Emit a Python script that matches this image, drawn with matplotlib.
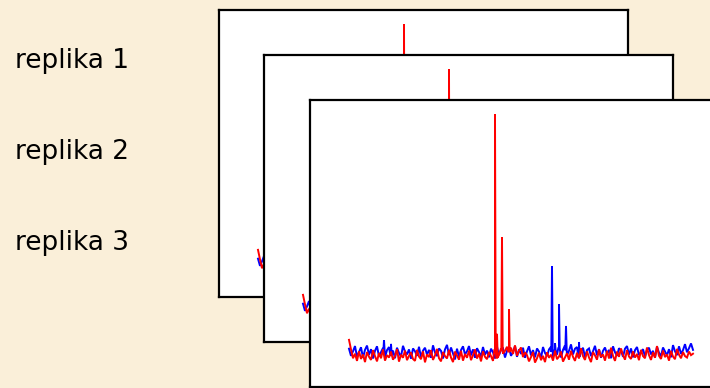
import numpy as np
import matplotlib
matplotlib.use("Agg")
import matplotlib.pyplot as plt

# ---- data ----
labels = ["replika 1", "replika 2", "replika 3"]

noise_x = np.arange(0, 345, 2)  # sampling positions of the baseline (173)
blue_noise = [
 1.8,-1.2,0.7,2.9,-1.6,0.4,2.4,-2.0,1.3,3.1,
 -0.8,1.6,-2.3,0.9,2.8,-1.4,0.3,2.1,-1.8,1.2,
 2.5,-0.9,1.0,-2.2,2.2,0.0,-1.5,3.0,0.6,-0.6,
 1.5,-2.4,1.9,0.7,-1.2,2.6,-1.9,1.0,2.2,-0.7,
 1.3,-2.0,3.2,0.2,-1.3,1.9,0.9,-2.3,1.5,3.4,
 -0.9,2.3,-0.2,-2.7,1.8,-1.6,1.2,2.8,-0.6,0.7,
 2.9,-1.0,1.5,-2.0,2.0,0.4,-1.5,2.5,-0.7,1.0,
 -1.8,1.8,0.3,-2.3,2.6,-0.9,1.3,1.9,-1.9,0.9,
 2.3,-1.2,0.4,2.9,-1.6,1.5,-0.4,2.2,-2.0,0.7,
 2.8,-1.0,1.2,-1.8,1.9,0.6,-2.2,2.5,0.0,-1.3,
 1.5,2.6,-1.6,1.0,-0.7,2.0,-1.9,1.3,3.2,-0.9,
 0.9,3.6,-0.6,1.8,2.5,-1.5,0.6,2.2,-1.8,1.2,
 1.9,-1.3,0.7,3.0,-1.0,1.6,-2.0,0.9,2.3,-0.4,
 1.3,-2.2,2.8,0.3,-1.2,2.0,1.0,-1.6,1.8,2.9,
 -0.7,1.9,-1.8,1.2,2.5,-0.9,0.4,1.6,-1.5,1.3,
 2.2,-0.6,0.9,-1.9,2.6,0.1,-1.3,2.3,0.6,-1.0,
 1.6,-1.8,3.3,0.7,-0.9,2.8,-0.4,1.2,3.7,0.3,
 2.0,4.0,1.3]
red_noise = [
 5.5,1.5,-2.2,-0.3,-3.3,0.7,-2.5,-0.6,-3.8,0.4,
 -1.6,-2.9,1.2,-1.3,-3.5,0.0,-2.2,1.5,-3.2,-0.9,
 -1.9,0.6,-2.8,-1.3,1.6,-3.6,-0.7,-2.0,1.0,-3.0,
 -1.2,0.3,-2.5,-3.3,1.3,-1.5,-2.6,0.7,-3.9,-0.6,
 -1.7,1.2,-2.9,-1.0,1.7,-2.2,-3.5,0.4,-1.3,-2.3,
 1.3,-1.9,-3.8,0.6,-1.0,-2.8,0.9,-3.2,-0.4,-2.0,
 1.0,-3.0,-0.9,1.5,-2.3,-0.3,-3.5,0.7,-1.6,-2.6,
 0.4,-1.3,-3.3,1.2,-2.0,-0.7,1.9,-0.3,0.9,2.6,
 0.6,2.2,-0.4,3.2,-1.2,1.0,2.3,-1.7,0.3,-0.9,
 -3.5,-1.7,0.4,-4.0,-2.2,0.1,-3.0,-1.2,-3.8,0.3,
 -2.0,-0.7,-3.2,1.0,-2.6,-1.5,0.6,-3.6,-1.9,-0.1,
 -2.8,0.9,-1.6,-3.3,0.1,-2.3,2.0,-1.3,-2.9,0.7,
 -1.9,-3.8,0.4,-1.0,-2.8,1.5,-1.7,-0.6,-3.2,0.9,
 -2.3,2.2,-1.2,-3.3,0.6,-1.6,1.9,-0.9,-2.8,1.2,
 -1.5,-2.5,0.7,-1.9,-0.4,-3.0,1.3,-1.3,-2.2,2.3,
 -0.9,-2.9,0.3,-2.0,2.9,-1.2,-2.5,1.0,-1.7,-0.6,
 -3.2,0.9,-1.5,-2.6,1.7,-0.7,-2.2,0.4,-1.3,-1.9,
 0.6,-0.9,-0.3]

red_peak_x = [146, 148, 153, 160]
red_peak_h = [100.0, 8.0, 48.5, 18.4]
blue_peak_x = [35, 42, 203, 206, 210, 217, 230]
blue_peak_h = [5.4, 3.8, 36.4, 4.0, 20.5, 11.3, 4.6]


def build(nx, ny, px, ph):
    nx = np.asarray(nx, float)
    ny = np.asarray(ny, float)
    px = np.asarray(px, float)
    ph = np.asarray(ph, float)
    base = np.interp(px, nx, ny)
    xs = np.concatenate([nx, px - 0.7, px, px + 0.7])
    ys = np.concatenate([ny, base, ph, base])
    order = np.argsort(xs, kind="stable")
    return xs[order], ys[order]


bx, by = build(noise_x, blue_noise, blue_peak_x, blue_peak_h)
rx, ry = build(noise_x, red_noise, red_peak_x, red_peak_h)

# ---- figure ----
W, H = 710, 388
fig = plt.figure(figsize=(W / 100, H / 100), dpi=100)
fig.patch.set_facecolor("#FAEFD9")

panel_w, panel_h = 409, 287
panels = [(219, 10), (264, 55), (310, 100)]  # left, top in pixels

for i, (L, T) in enumerate(panels):
    ax = fig.add_axes([L / W, (H - T - panel_h) / H, panel_w / W, panel_h / H])
    ax.set_facecolor("white")
    ax.plot(bx, by, color="#0000FF", lw=1.4, solid_joinstyle="miter")
    ax.plot(rx, ry, color="#FF0000", lw=1.4, solid_joinstyle="miter")
    ax.set_xlim(-39, 370)
    ax.set_ylim(-14.23, 105.86)
    ax.set_xticks([])
    ax.set_yticks([])
    for s in ax.spines.values():
        s.set_color("black")
        s.set_linewidth(1.6)

baselines = [68, 159, 250]
for lab, yb in zip(labels, baselines):
    fig.text(15 / W, 1 - yb / H, lab, fontsize=19, family="DejaVu Sans",
             color="black", va="baseline", ha="left")

fig.savefig("out.png", dpi=100, facecolor=fig.get_facecolor())
